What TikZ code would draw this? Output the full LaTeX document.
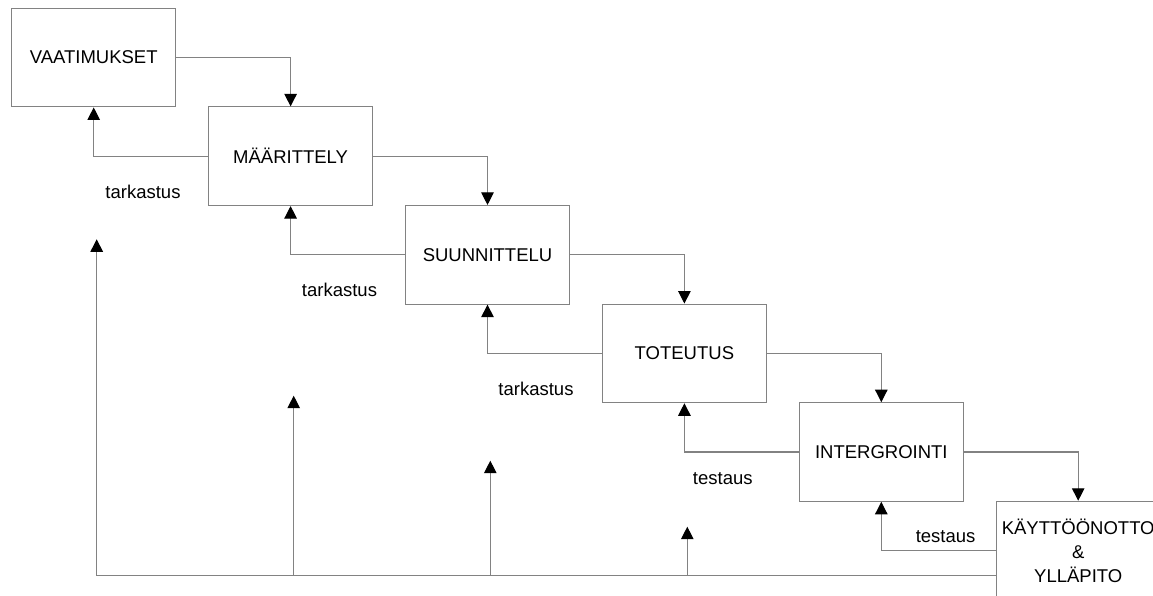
\documentclass[tikz,border=0pt]{standalone}
\usepackage{fontspec}
\setmainfont{Liberation Sans}
\usetikzlibrary{arrows.meta}
\definecolor{wire}{RGB}{130,130,130}
\begin{document}
\begin{tikzpicture}[x=1pt,y=-1pt,
  phase/.style={draw=wire, line width=1.1pt, fill=white, minimum width=164pt,
    minimum height=98.6pt, inner sep=0pt, align=center,
    font=\fontsize{18.5}{24}\selectfont},
  flow/.style={draw=wire, line width=1.1pt,
    -{Triangle[length=12.5pt,width=12.5pt,color=black,fill=black]}},
  bus/.style={draw=wire, line width=1.1pt},
  lbl/.style={inner sep=0pt, font=\fontsize{18.5}{22}\selectfont}]
\clip (0,0) rectangle (1153,596);
\useasboundingbox (0,0) rectangle (1153,596);
\fill[white] (0,0) rectangle (1153,596);

% phase boxes, stepping down to the right
\node[phase] (b1) at (93.7,57.6)  {VAATIMUKSET};
\node[phase] (b2) at (290.6,156.2) {MÄÄRITTELY};
\node[phase] (b3) at (487.5,254.8) {SUUNNITTELU};
\node[phase] (b4) at (684.4,353.4) {TOTEUTUS};
\node[phase] (b5) at (881.3,452.0) {INTERGROINTI};
\node[phase] (b6) at (1078.2,550.6) {KÄYTTÖÖNOTTO\\\&\\YLLÄPITO};

% forward flow
\draw[flow] (b1.east) -| (b2.north);
\draw[flow] (b2.east) -| (b3.north);
\draw[flow] (b3.east) -| (b4.north);
\draw[flow] (b4.east) -| (b5.north);
\draw[flow] (b5.east) -| (b6.north);

% feedback to the previous phase
\draw[flow] (b2.west) -| (b1.south);
\draw[flow] (b3.west) -| (b2.south);
\draw[flow] (b4.west) -| (b3.south);
\draw[flow] (b5.west) -| (b4.south);
\draw[flow] (b6.west) -| (b5.south);

% feedback labels
\node[lbl] (l1) at (143,191.5) {tarkastus};
\node[lbl] (l2) at (339.5,290.2) {tarkastus};
\node[lbl] (l3) at (536,389) {tarkastus};
\node[lbl] (l4) at (722.8,478.3) {testaus};
\node[lbl] (l5) at (945.6,536.7) {testaus};

% return bus along the bottom
\coordinate (bus) at (96.7,575.7);
\coordinate (t1) at (96.7,239.3);
\coordinate (t2) at (293.7,395.7);
\coordinate (t3) at (490.3,460.7);
\coordinate (t4) at (687.3,526.7);
\draw[bus] (bus -| b6.west) -- (bus);
\draw[flow] (bus) -- (t1);
\draw[flow] (bus -| t2) -- (t2);
\draw[flow] (bus -| t3) -- (t3);
\draw[flow] (bus -| t4) -- (t4);
\end{tikzpicture}
\end{document}
